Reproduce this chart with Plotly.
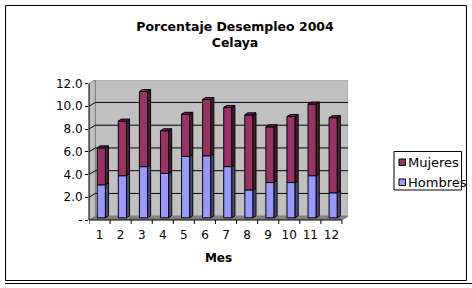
import plotly.graph_objects as go

# ---------------- data ----------------
months = list(range(1, 13))
month_labels = ["1", "2", "3", "4", "5", "6", "7", "8", "9", "10", "11", "12"]
hombres = [2.9, 3.7, 4.5, 3.9, 5.4, 5.45, 4.5, 2.45, 3.1, 3.1, 3.7, 2.2]
mujeres = [3.25, 4.8, 6.6, 3.75, 3.7, 4.95, 5.2, 6.6, 4.9, 5.8, 6.3, 6.6]
y_tickvals = [0, 2, 4, 6, 8, 10, 12]
y_ticktext = ["-", "2.0", "4.0", "6.0", "8.0", "10.0", "12.0"]
series_names = ["Mujeres", "Hombres"]

# ---------------- geometry ----------------
W, H = 472, 288
ML, MR, MT, MB = 89, 124, 80, 68
PW = W - ML - MR
PH = H - MT - MB
PXX = 21.08   # px per category
PXY = 11.375  # px per value unit
YMAX = 12
XR = [0.5, 0.5 + PW / PXX]
YR = [0, PH / PXY]
DX = 6.3 / PXX
DY = 3.8 / PXY
SX = 1.8 / PXX
SY = 2.2 / PXY
BW = 8.2 / PXX
DDX = 3.0 / PXX
DDY = 2.0 / PXY
X0, X1 = 0.5, len(months) + 0.5

FONT = "DejaVu Sans"
C_MUJ, C_MUJ_SIDE, C_MUJ_TOP = "#993366", "#4D1A33", "#732650"
C_HOM, C_HOM_SIDE, C_HOM_TOP = "#9999FF", "#4D4D80", "#7373BF"


def pxx(px):
    return (px - ML) / PW


def pxy(py):
    return (H - MB - py) / PH


def faces(bases, heights):
    sx, sy, tx, ty = [], [], [], []
    for m, b, h in zip(months, bases, heights):
        xl = m + SX - BW / 2
        xr = m + SX + BW / 2
        y0, y1 = b, b + h
        sx += [xr, xr + DDX, xr + DDX, xr, xr, None]
        sy += [y0, y0 + DDY, y1 + DDY, y1, y0, None]
        tx += [xl, xl + DDX, xr + DDX, xr, xl, None]
        ty += [y1, y1 + DDY, y1 + DDY, y1, y1, None]
    return sx, sy, tx, ty


base_h = [SY for _ in hombres]
base_m = [SY + h for h in hombres]

fig = go.Figure()

fig.add_trace(go.Bar(x=[m + SX for m in months], y=hombres, base=base_h, width=BW,
                     name=series_names[1], marker=dict(color=C_HOM, line=dict(color="black", width=1)),
                     showlegend=False))
fig.add_trace(go.Bar(x=[m + SX for m in months], y=mujeres, base=base_m, width=BW,
                     name=series_names[0], marker=dict(color=C_MUJ, line=dict(color="black", width=1)),
                     showlegend=False))

hsx, hsy, _, _ = faces(base_h, hombres)
msx, msy, mtx, mty = faces(base_m, mujeres)
for xs, ys, col in [(hsx, hsy, C_HOM_SIDE), (msx, msy, C_MUJ_SIDE), (mtx, mty, C_MUJ_TOP)]:
    fig.add_trace(go.Scatter(x=xs, y=ys, mode="lines", fill="toself", fillcolor=col,
                             line=dict(color="black", width=1), hoverinfo="skip",
                             showlegend=False))

shapes = []
# back wall
shapes.append(dict(type="rect", xref="x", yref="y", x0=X0 + DX, x1=X1 + DX, y0=DY, y1=YMAX + DY,
                   fillcolor="#C0C0C0", line=dict(color="#808080", width=1), layer="below"))
# left side wall
shapes.append(dict(type="path", xref="x", yref="y",
                   path=f"M{X0},0 L{X0+DX},{DY} L{X0+DX},{YMAX+DY} L{X0},{YMAX} Z",
                   fillcolor="#C0C0C0", line=dict(color="#808080", width=1), layer="below"))
# floor
shapes.append(dict(type="path", xref="x", yref="y",
                   path=f"M{X0},0 L{X1},0 L{X1+DX},{DY} L{X0+DX},{DY} Z",
                   fillcolor="#808080", line=dict(color="#808080", width=1), layer="below"))
# gridlines
for v in y_tickvals[1:-1]:
    shapes.append(dict(type="line", xref="x", yref="y", x0=X0 + DX, x1=X1 + DX, y0=v + DY, y1=v + DY,
                       line=dict(color="black", width=1), layer="below"))
    shapes.append(dict(type="line", xref="x", yref="y", x0=X0, x1=X0 + DX, y0=v, y1=v + DY,
                       line=dict(color="black", width=1), layer="below"))
# front axes
shapes.append(dict(type="line", xref="paper", yref="y", x0=0, x1=0, y0=0, y1=YMAX,
                   line=dict(color="black", width=1)))
shapes.append(dict(type="line", xref="x", yref="paper", x0=X0, x1=X1, y0=0, y1=0,
                   line=dict(color="black", width=1)))
for k in range(len(months) + 1):
    shapes.append(dict(type="line", xref="x", yref="paper", x0=X0 + k, x1=X0 + k,
                       y0=0, y1=pxy(H - MB + 4), line=dict(color="black", width=1)))
# chart border
shapes.append(dict(type="rect", xref="paper", yref="paper", x0=pxx(5.5), x1=pxx(466.5),
                   y0=pxy(280.5), y1=pxy(5.5), line=dict(color="black", width=1)))
shapes.append(dict(type="line", xref="paper", yref="paper", x0=pxx(5), x1=pxx(472),
                   y0=pxy(283.5), y1=pxy(283.5), line=dict(color="black", width=1)))
# legend box & swatches
shapes.append(dict(type="rect", xref="paper", yref="paper", x0=pxx(394), x1=pxx(461.5),
                   y0=pxy(190), y1=pxy(151.5), line=dict(color="black", width=1), fillcolor="white"))
annotations = []
for name, col, yc in [(series_names[0], C_MUJ, 162.5), (series_names[1], C_HOM, 182.5)]:
    shapes.append(dict(type="rect", xref="paper", yref="paper", x0=pxx(399), x1=pxx(405.5),
                       y0=pxy(yc + 3), y1=pxy(yc - 3.5), fillcolor=col, line=dict(color="black", width=1)))
    annotations.append(dict(text=name, xref="paper", yref="paper", x=pxx(406), y=pxy(yc),
                            xanchor="left", yanchor="middle", showarrow=False,
                            font=dict(family=FONT, size=13, color="black")))

fig.update_layout(
    width=W, height=H,
    margin=dict(l=ML, r=MR, t=MT, b=MB),
    paper_bgcolor="white", plot_bgcolor="white",
    barmode="overlay",
    showlegend=False,
    title=dict(text="Porcentaje Desempleo 2004<br>Celaya", x=235 / W, xref="container",
               xanchor="center", y=1 - 31 / H, yref="container", yanchor="middle",
               font=dict(family=FONT, size=12.5, color="black", weight="bold")),
    xaxis=dict(range=XR, tickvals=months, ticktext=month_labels, showgrid=False, zeroline=False,
               showline=False, ticks="outside", ticklen=4, tickcolor="rgba(0,0,0,0)",
               tickfont=dict(family=FONT, size=12, color="black"),
               title=dict(text="Mes", standoff=12, font=dict(family=FONT, size=12, color="black", weight="bold")),
               automargin=False, fixedrange=True),
    yaxis=dict(range=YR, tickvals=y_tickvals, ticktext=y_ticktext, showgrid=False, zeroline=False,
               showline=False, ticks="outside", ticklen=3, tickcolor="black",
               tickfont=dict(family=FONT, size=12, color="black"),
               automargin=False, fixedrange=True),
    shapes=shapes,
    annotations=annotations,
)

fig.write_html("out.html", config={"displayModeBar": False},
               post_script="document.body.style.margin='0';document.body.style.padding='0';"
                           "document.body.style.overflow='hidden';")
